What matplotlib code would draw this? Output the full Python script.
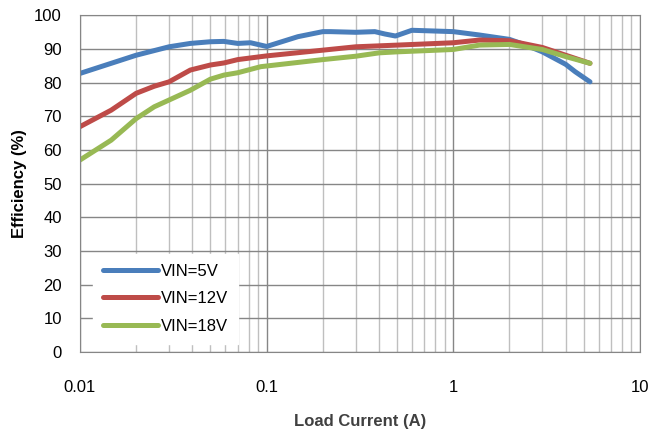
import numpy as np
import matplotlib.pyplot as plt
from matplotlib.ticker import FixedLocator, LogLocator, NullFormatter

plt.rcParams['font.family'] = ['Liberation Sans', 'DejaVu Sans']

# Efficiency curves
i_5v = [0.01, 0.0147, 0.02, 0.03, 0.039, 0.05, 0.059, 0.07, 0.082, 0.093, 0.1,
        0.147, 0.2, 0.22, 0.3, 0.38, 0.43, 0.49, 0.6, 1.0, 1.38, 2.0, 2.45,
        3.0, 4.0, 4.5, 5.4]
eff_5v = [82.7, 85.7, 88.1, 90.6, 91.6, 92.1, 92.2, 91.6, 91.8, 91.1, 90.7,
          93.6, 95.1, 95.1, 94.9, 95.1, 94.4, 93.8, 95.5, 95.1, 94.1, 92.8, 91.1,
          89.1, 85.4, 83.2, 80.2]

i_12v = [0.01, 0.0147, 0.02, 0.025, 0.03, 0.039, 0.05, 0.059, 0.07, 0.1, 0.2,
         0.3, 0.5, 1.0, 1.38, 2.0, 3.0, 4.0, 5.4]
eff_12v = [66.9, 71.8, 76.8, 78.9, 80.2, 83.7, 85.2, 85.8, 86.8, 87.9, 89.6,
           90.6, 91.1, 91.8, 92.6, 92.4, 90.4, 88.1, 85.7]

i_18v = [0.01, 0.0147, 0.02, 0.025, 0.03, 0.039, 0.05, 0.059, 0.07, 0.093, 0.1,
         0.2, 0.3, 0.4, 0.5, 1.0, 1.38, 2.0, 3.0, 4.0, 5.4]
eff_18v = [57.0, 62.9, 69.3, 72.8, 74.8, 77.7, 81.0, 82.2, 82.9, 84.7, 84.9,
           86.8, 87.8, 88.8, 89.1, 89.8, 91.1, 91.3, 89.8, 87.7, 85.7]

fig = plt.figure(figsize=(6.53, 4.32), dpi=100)
ax = fig.add_axes([0.1225, 0.185, 0.8575, 0.78])

lw = 3.6
style = dict(lw=lw, solid_capstyle='round', solid_joinstyle='round')
ax.plot(i_5v, eff_5v, color='#4A7EBB', label='VIN=5V', **style)
ax.plot(i_12v, eff_12v, color='#BE4B48', label='VIN=12V', **style)
ax.plot(i_18v, eff_18v, color='#98B954', label='VIN=18V', **style)

ax.set_xscale('log')
ax.set_xlim(0.01, 10)
ax.set_ylim(0, 100)
ax.xaxis.set_major_locator(FixedLocator([0.01, 0.1, 1, 10]))
ax.set_xticklabels(['0.01', '0.1', '1', '10'])
ax.xaxis.set_minor_locator(LogLocator(base=10, subs=np.arange(2, 10)))
ax.xaxis.set_minor_formatter(NullFormatter())
ax.set_yticks(range(0, 101, 10))

ax.grid(True, which='major', color='#868686', lw=1.0)
ax.grid(True, which='minor', axis='x', color='#BFBFBF', lw=1.0)
ax.set_axisbelow(True)
for s in ax.spines.values():
    s.set_color('#868686')
ax.tick_params(which='both', length=0, labelsize=12, colors='black')
ax.tick_params(axis='x', pad=20)
ax.tick_params(axis='y', pad=13)

ax.set_xlabel('Load Current (A)', fontsize=12, fontweight='bold', color='#404040', labelpad=14)
ax.set_ylabel('Efficiency (%)', fontsize=12, fontweight='bold', labelpad=5)

leg = ax.legend(loc='lower left', bbox_to_anchor=(0.008, 0.0), fontsize=12, frameon=True,
                fancybox=False, edgecolor='white', framealpha=1, handlelength=3.3,
                handletextpad=0.2, labelspacing=0.75, borderpad=0.6)

fig.savefig('out.png', dpi=100)
